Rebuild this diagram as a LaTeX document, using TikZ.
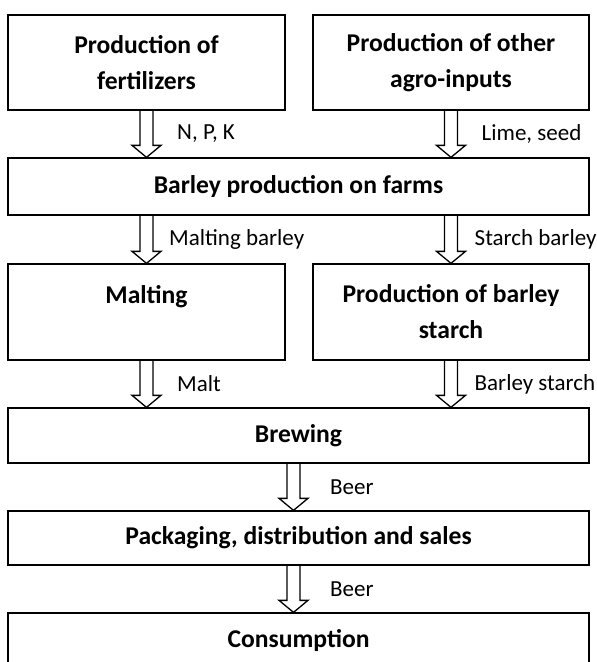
\documentclass[tikz,border=0pt]{standalone}
\usepackage{fontspec}
\setmainfont{Carlito}
\usetikzlibrary{calc}

\tikzset{
  stage/.style={draw, line width=1.3pt, rectangle, align=center, inner sep=0pt,
    font=\fontsize{25.6}{36}\selectfont\bfseries},
  flowline/.style={line width=1.3pt, line join=miter},
  flowlabel/.style={anchor=west, inner sep=0pt, font=\fontsize{23}{28}\selectfont}
}

% 속이 빈 블록 화살표: #1 시작점, #2 끝점(화살촉 끝)
\newcommand{\flowarrow}[2]{%
  \draw[flowline] ($(#1)+(-6.5,0)$) -- ($(#2)+(-6.5,-12)$) -- ($(#2)+(-14.5,-12)$)
    -- (#2) -- ($(#2)+(14.5,-12)$) -- ($(#2)+(6.5,-12)$) -- ($(#1)+(6.5,0)$);}

\begin{document}
\begin{tikzpicture}[x=1pt, y=-1pt]
  \useasboundingbox (0,0) rectangle (597,662);
  % 1단계 — 투입재 생산
  \node[stage, minimum width=277, minimum height=95] (fert) at (146.5,62.5)
    {Production of\\fertilizers};
  \node[stage, minimum width=276, minimum height=95] (agro) at (451,62.5)
    {Production of other\\agro-inputs};
  % 2단계 — 농장
  \node[stage, minimum width=581, minimum height=57] (farms) at (298.5,186.5)
    {Barley production on farms};
  % 3단계 — 가공
  \node[stage, minimum width=277, minimum height=96] (malt) at (146.5,312)
    {Malting\\\mbox{}};
  \node[stage, minimum width=276, minimum height=96] (starch) at (451,312)
    {Production of barley\\starch};
  % 4단계 이후 — 양조, 유통, 소비
  \node[stage, minimum width=581, minimum height=55] (brew) at (298.5,435.5) {Brewing};
  \node[stage, minimum width=581, minimum height=54] (pack) at (298.5,538)
    {Packaging, distribution and sales};
  \node[stage, minimum width=581, minimum height=55] (cons) at (298.5,640.5) {Consumption};

  % 화살촉 끝
  \coordinate (t1) at (fert.south |- farms.north);
  \coordinate (t2) at (agro.south |- farms.north);
  \coordinate (s3) at (fert.south |- farms.south);
  \coordinate (s4) at (starch.north |- farms.south);
  \coordinate (s7) at ([xshift=-5]brew.south);
  \coordinate (t7) at ([xshift=-5]pack.north);
  \coordinate (s8) at ([xshift=-5]pack.south);
  \coordinate (t8) at ([xshift=-5]cons.north);

  \flowarrow{fert.south}{t1}
  \flowarrow{agro.south}{t2}
  \flowarrow{s3}{malt.north}
  \flowarrow{s4}{starch.north}
  \flowarrow{malt.south}{malt.south |- brew.north}
  \flowarrow{starch.south}{starch.south |- brew.north}
  \flowarrow{s7}{t7}
  \flowarrow{s8}{t8}

  % 흐름 이름
  \node[flowlabel] (l1) at ($(fert.south)!0.5!(t1)+(30.5,0)$) {N, P, K};
  \node[flowlabel] (l2) at ($(agro.south)!0.5!(t2)+(30.5,0)$) {Lime, seed};
  \node[flowlabel] (l3) at ($(s3)!0.5!(malt.north)+(22.5,0)$) {Malting barley};
  \node[flowlabel] (l4) at ($(s4)!0.5!(starch.north)+(23.5,0)$) {Starch barley};
  \node[flowlabel] (l5) at ($(malt.south)!0.5!(brew.north -| malt.south)+(30.5,0)$) {Malt};
  \node[flowlabel] (l6) at ($(starch.south)!0.5!(brew.north -| starch.south)+(23.5,0)$) {Barley starch};
  \node[flowlabel] (l7) at ($(s7)!0.5!(t7)+(36.5,0)$) {Beer};
  \node[flowlabel] (l8) at ($(s8)!0.5!(t8)+(36.5,0)$) {Beer};
\end{tikzpicture}
\end{document}
